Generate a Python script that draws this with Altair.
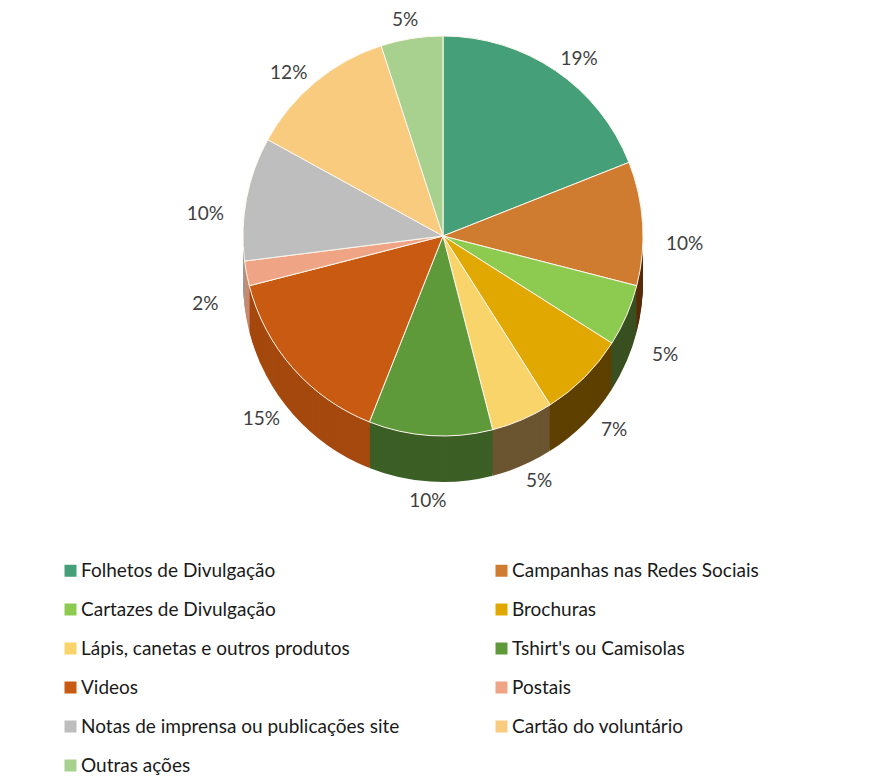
import altair as alt
import pandas as pd

categorias = [
    "Folhetos de Divulgação",
    "Campanhas nas Redes Sociais",
    "Cartazes de Divulgação",
    "Brochuras",
    "Lápis, canetas e outros produtos",
    "Tshirt's ou Camisolas",
    "Videos",
    "Postais",
    "Notas de imprensa ou publicações site",
    "Cartão do voluntário",
    "Outras ações",
]
percentagens = [19, 10, 5, 7, 5, 10, 15, 2, 10, 12, 5]
cores = ["#45A07A", "#D07C30", "#8CCB50", "#E0A800", "#F8D46A", "#5E9A3A",
         "#C85A12", "#EFA585", "#BEBEBE", "#F8CB7F", "#A8D08E"]
cores_lado = ["#2E6B52", "#5A2C0A", "#3A5022", "#5E4000", "#6B5530", "#3B5F25",
              "#A5490F", "#C98A70", "#9A9A9A", "#B8965E", "#7A9A68"]

ordem = list(range(len(categorias)))
df = pd.DataFrame({
    "categoria": categorias,
    "valor": percentagens,
    "ordem": ordem,
    "rotulo": [f"{v}%" for v in percentagens],
})

CX, CY, R, DEPTH = 435, 228, 200, 46
FONT = "Lato"

base = alt.Chart(df)
theta = alt.Theta("valor:Q", stack=True)
order = alt.Order("ordem:Q")

layers = []
for d in range(DEPTH, 0, -2):
    layers.append(
        base.mark_arc(outerRadius=R, strokeWidth=0).encode(
            theta=theta, order=order,
            fill=alt.Fill("ordem:O", scale=alt.Scale(domain=ordem, range=cores_lado), legend=None),
            x=alt.value(CX), y=alt.value(CY + d),
        )
    )

top = base.mark_arc(outerRadius=R, stroke="#FFF8EE", strokeWidth=1).encode(
    theta=theta, order=order,
    color=alt.Color(
        "categoria:N",
        scale=alt.Scale(domain=categorias, range=cores),
        legend=alt.Legend(
            title=None, orient="none", legendX=53, legendY=553, columns=2,
            direction="horizontal",
            symbolType="square", symbolSize=144, symbolStrokeWidth=0,
            labelFont=FONT, labelFontSize=19, labelColor="#1a1a1a", labelLimit=400,
            rowPadding=19, columnPadding=92, labelOffset=1,
        ),
    ),
    x=alt.value(CX), y=alt.value(CY),
)
layers.append(top)

labels = base.mark_text(radius=R + 42, font=FONT, fontSize=19, color="#404040").encode(
    theta=theta, order=order, text="rotulo:N",
    x=alt.value(CX), y=alt.value(CY + DEPTH / 2),
)
layers.append(labels)

chart = alt.layer(*layers).properties(width=877, height=540, padding=0).configure_view(stroke=None)
chart.save("out.html", embed_options={"renderer": "svg", "actions": False})
